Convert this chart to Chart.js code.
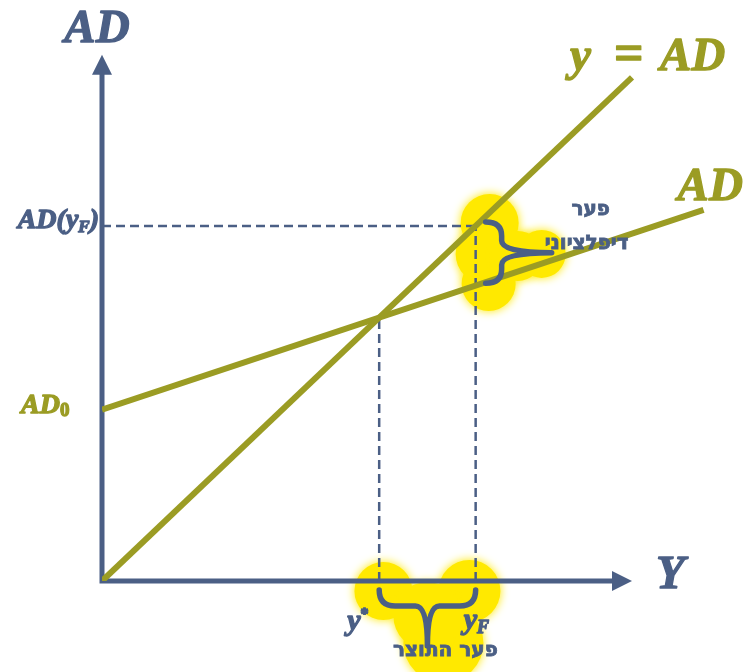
<!DOCTYPE html>
<html lang="he">
<head>
    <meta charset="UTF-8">
    <script src="https://cdn.jsdelivr.net/npm/chart.js"></script>
    <title>פער דיפלציוני</title>
    <style>
        body { margin: 0; background: #ffffff; }
        canvas { display: block; }
    </style>
</head>
<body>
    <canvas id="grafico" width="747" height="672"></canvas>
<script>
    // dados do gráfico (unidades do próprio gráfico)
    const linhaX = [0, 10];          // y = AD
    const linhaY = [0, 10];
    const adX = [0, 11.35];          // AD
    const adY = [3.4, 7.37];
    const yEstrela = 5.23;           // y*
    const adEstrela = 5.23;
    const yF = 7.05;                 // y_F
    const adYF = 7.05;               // AD(y_F)
    const adEmYF = 5.87;             // AD no ponto y_F
    const eixoXFim = 10;
    const eixoYFim = 10.45;

    const verde = '#9b9c24';
    const azul = '#4b5f85';
    const amarelo = '#ffe900';

    function pontos(xs, ys) {
        let arr = [];
        for (let i = 0; i < xs.length; i++) arr.push({ x: xs[i], y: ys[i] });
        return arr;
    }

    function tracejado(xs, ys) {
        return {
            data: pontos(xs, ys),
            showLine: true,
            borderColor: azul,
            borderWidth: 2.5,
            borderDash: [9, 5],
            pointRadius: 0
        };
    }

    // escreve texto com subscrito (com contorno para ficar mais grosso)
    function texto(ctx, partes, x, y, cor) {
        ctx.save();
        ctx.fillStyle = cor;
        ctx.strokeStyle = cor;
        ctx.lineWidth = 1.3;
        ctx.lineJoin = 'round';
        ctx.textAlign = 'left';
        ctx.textBaseline = 'alphabetic';
        let px = x;
        partes.forEach(function (p) {
            ctx.font = p.fonte;
            if (p.x !== undefined) px = p.x;
            ctx.fillText(p.t, px, y + (p.dy || 0));
            ctx.strokeText(p.t, px, y + (p.dy || 0));
            px += ctx.measureText(p.t).width + (p.esp || 0);
        });
        ctx.restore();
    }

    function largura(ctx, partes) {
        let w = 0;
        partes.forEach(function (p) {
            ctx.font = p.fonte;
            w += ctx.measureText(p.t).width + (p.esp || 0);
        });
        return w;
    }

    function hebraico(ctx, t, x, y) {
        ctx.save();
        ctx.fillStyle = azul;
        ctx.strokeStyle = azul;
        ctx.lineWidth = 0.8;
        ctx.textAlign = 'center';
        ctx.font = 'bold 20px "DejaVu Sans", sans-serif';
        ctx.fillText(t, x, y);
        ctx.strokeText(t, x, y);
        ctx.restore();
    }

    function bolhas(ctx, cx, cy, lista) {
        ctx.save();
        ctx.fillStyle = amarelo;
        ctx.shadowColor = amarelo;
        ctx.shadowBlur = 10;
        lista.forEach(function (c) {
            ctx.beginPath();
            ctx.arc(cx + c[0], cy + c[1], c[2], 0, Math.PI * 2);
            ctx.fill();
        });
        ctx.restore();
    }

    const desenhoExtra = {
        id: 'desenhoExtra',
        beforeDatasetsDraw(chart) {
            const ctx = chart.ctx;
            const xs = chart.scales.x, ys = chart.scales.y;
            const x0 = xs.getPixelForValue(0), y0 = ys.getPixelForValue(0);
            const pxF = xs.getPixelForValue(yF);
            const pyF = ys.getPixelForValue(adYF);
            const pxE = xs.getPixelForValue(yEstrela);
            const pxM = (pxE + pxF) / 2;

            // manchas amarelas
            bolhas(ctx, pxF, pyF, [[14, -3, 29], [13, 58, 27], [10, 28, 30], [66, 28, 24], [42, 30, 25]]);
            bolhas(ctx, pxM, y0, [[-44, 10, 29], [42, 10, 31], [16, 62, 40], [0, 35, 34]]);

            // eixos
            ctx.save();
            ctx.strokeStyle = azul;
            ctx.fillStyle = azul;
            ctx.lineWidth = 5;
            const topo = ys.getPixelForValue(eixoYFim);
            const fimX = xs.getPixelForValue(eixoXFim);
            ctx.beginPath();
            ctx.moveTo(x0, y0 + 2.5);
            ctx.lineTo(x0, topo + 18);
            ctx.moveTo(x0 - 2.5, y0);
            ctx.lineTo(fimX - 18, y0);
            ctx.stroke();
            ctx.beginPath();
            ctx.moveTo(x0, topo);
            ctx.lineTo(x0 - 10, topo + 20);
            ctx.lineTo(x0 + 10, topo + 20);
            ctx.closePath();
            ctx.fill();
            ctx.beginPath();
            ctx.moveTo(fimX, y0);
            ctx.lineTo(fimX - 20, y0 - 10);
            ctx.lineTo(fimX - 20, y0 + 10);
            ctx.closePath();
            ctx.fill();
            ctx.restore();
        },
        afterDraw(chart) {
            const ctx = chart.ctx;
            const xs = chart.scales.x, ys = chart.scales.y;
            const x0 = xs.getPixelForValue(0), y0 = ys.getPixelForValue(0);
            const pxF = xs.getPixelForValue(yF);
            const pxE = xs.getPixelForValue(yEstrela);
            const pyF = ys.getPixelForValue(adYF);
            const pyA = ys.getPixelForValue(adEmYF);

            ctx.save();
            ctx.strokeStyle = azul;
            ctx.lineWidth = 5.5;
            ctx.lineCap = 'round';

            // chave vertical (pfer difletsioni)
            const bx = pxF + 10, by1 = pyF - 4, by2 = pyA - 2;
            const bm = (by1 + by2) / 2, bw = 16, bt = 66;
            ctx.beginPath();
            ctx.moveTo(bx, by1);
            ctx.quadraticCurveTo(bx + bw, by1, bx + bw, by1 + 14);
            ctx.lineTo(bx + bw, bm - 12);
            ctx.quadraticCurveTo(bx + bw, bm, bx + bt, bm);
            ctx.moveTo(bx + bt, bm);
            ctx.quadraticCurveTo(bx + bw, bm, bx + bw, bm + 12);
            ctx.lineTo(bx + bw, by2 - 14);
            ctx.quadraticCurveTo(bx + bw, by2, bx, by2);
            ctx.stroke();

            // chave horizontal (pfer hatotsar)
            const hy = y0 + 9, hd = 16, hm = (pxE + pxF) / 2, ht = 56;
            ctx.beginPath();
            ctx.moveTo(pxE, hy);
            ctx.quadraticCurveTo(pxE, hy + hd, pxE + 16, hy + hd);
            ctx.lineTo(hm - 12, hy + hd);
            ctx.quadraticCurveTo(hm, hy + hd, hm, hy + ht);
            ctx.moveTo(hm, hy + ht);
            ctx.quadraticCurveTo(hm, hy + hd, hm + 12, hy + hd);
            ctx.lineTo(pxF - 16, hy + hd);
            ctx.quadraticCurveTo(pxF, hy + hd, pxF, hy);
            ctx.stroke();
            ctx.restore();

            // textos
            const serif = '"Liberation Serif", "DejaVu Serif", serif';
            const grande = 'italic bold 47px ' + serif;

            let p = [{ t: 'AD', fonte: grande }];
            texto(ctx, p, x0 - 5 - largura(ctx, p) / 2, 42, azul);
            texto(ctx, [{ t: 'Y', fonte: grande }], xs.getPixelForValue(eixoXFim) + 24, y0 + 7, azul);
            texto(ctx, [
                { t: 'y', fonte: grande, x: 570 },
                { t: '=', fonte: 'bold 52px ' + serif, x: 614 },
                { t: 'AD', fonte: grande, x: 660 }
            ], 570, 70, verde);
            texto(ctx, [{ t: 'AD', fonte: grande }], xs.getPixelForValue(adX[1]) - 26, 200, verde);

            p = [
                { t: 'AD(', fonte: 'italic bold 28px ' + serif },
                { t: 'y', fonte: 'italic bold 28px ' + serif },
                { t: 'F', fonte: 'italic bold 17px ' + serif, dy: 4 },
                { t: ')', fonte: 'italic bold 28px ' + serif }
            ];
            texto(ctx, p, x0 - 3 - largura(ctx, p), pyF + 2, azul);

            p = [
                { t: 'AD', fonte: 'italic bold 28px ' + serif },
                { t: '0', fonte: 'bold 19px ' + serif, dy: 3 }
            ];
            texto(ctx, p, 21, ys.getPixelForValue(adY[0]) + 3, verde);

            texto(ctx, [
                { t: 'y', fonte: 'italic bold 30px ' + serif },
                { t: '*', fonte: 'bold 16px ' + serif, dy: -11 }
            ], pxE - 32, y0 + 49, azul);
            texto(ctx, [
                { t: 'y', fonte: 'italic bold 30px ' + serif },
                { t: 'F', fonte: 'italic bold 18px ' + serif, dy: 4 }
            ], pxF - 12, y0 + 48, azul);

            hebraico(ctx, 'פער', pxF + 115, pyF - 11);
            hebraico(ctx, 'דיפלציוני', pxF + 111, pyF + 23);
            hebraico(ctx, 'פער התוצר', (pxE + pxF) / 2 + 18, y0 + 75);
        }
    };

    const dados = {
        datasets: [
            {
                data: pontos(linhaX, linhaY),
                showLine: true,
                borderColor: verde,
                borderWidth: 6,
                pointRadius: 0
            },
            {
                data: pontos(adX, adY),
                showLine: true,
                borderColor: verde,
                borderWidth: 6,
                pointRadius: 0
            },
            tracejado([yEstrela, yEstrela], [0, adEstrela]),
            tracejado([yF, yF], [0, adYF]),
            tracejado([0, yF], [adYF, adYF])
        ]
    };

    const config = {
        type: 'scatter',
        data: dados,
        options: {
            responsive: false,
            animation: false,
            events: [],
            layout: { padding: { left: 102, right: 9, top: 27, bottom: 91 } },
            plugins: { legend: { display: false }, tooltip: { enabled: false } },
            scales: {
                x: { type: 'linear', min: 0, max: 12, display: false },
                y: { type: 'linear', min: 0, max: 11, display: false }
            }
        },
        plugins: [desenhoExtra]
    };

    let ctx = document.getElementById('grafico').getContext('2d');
    let meuGrafico = new Chart(ctx, config);
</script>
</body>
</html>
